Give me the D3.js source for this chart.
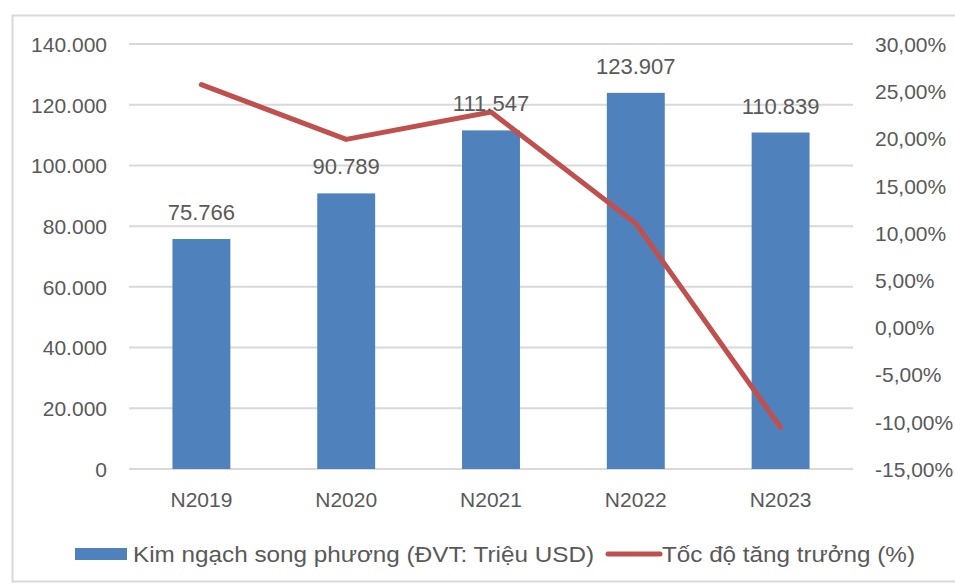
<!DOCTYPE html>
<html>
<head>
  <meta charset="utf-8">
  <title>Kim ngạch song phương</title>
  <script src="https://d3js.org/d3.v7.min.js" charset="utf-8"></script>
  <style type="text/css">
    body { margin: 0; background: #fff; }
    text { font-family: "Liberation Sans", Arial, sans-serif; fill: #595959; }
  </style>
</head>
<body>
<script>

var width = 955;
var height = 587;

// data
var categories = ["N2019", "N2020", "N2021", "N2022", "N2023"];
var tradeValues = [75766, 90789, 111547, 123907, 110839];
var growthRates = [25.7, 19.9, 22.8, 11.0, -10.6];
var leftTicks = [0, 20000, 40000, 60000, 80000, 100000, 120000, 140000];
var rightTicks = [-15, -10, -5, 0, 5, 10, 15, 20, 25, 30];
var legendLabels = ["Kim ngạch song phương (ĐVT: Triệu USD)", "Tốc độ tăng trưởng (%)"];

var plotLeft = 129, plotRight = 853, plotTop = 44, plotBottom = 469;

var svg = d3.select("body").append("svg")
  .attr("width", width)
  .attr("height", height);

// outer frame
svg.append("rect")
  .attr("x", 12.5).attr("y", 15.5)
  .attr("width", 960).attr("height", 566)
  .attr("fill", "none")
  .attr("stroke", "#d9d9d9")
  .attr("stroke-width", 2);

var x = d3.scaleBand()
  .domain(categories)
  .range([plotLeft, plotRight])
  .paddingInner(0.6)
  .paddingOuter(0.3);

var yLeft = d3.scaleLinear().domain([0, 140000]).range([plotBottom, plotTop]);
var yRight = d3.scaleLinear().domain([-15, 30]).range([plotBottom, plotTop]);

var fmtLeft = function(d){ return d3.format(",")(d).replace(/,/g, "."); };
// plain hyphen instead of d3's unicode minus
var fmtRight = function(d){ return d3.format(".2f")(d).replace("−", "-").replace(".", ",") + "%"; };

// gridlines
svg.append("g")
  .selectAll("line")
  .data(leftTicks)
  .enter()
  .append("line")
  .attr("x1", plotLeft).attr("x2", plotRight)
  .attr("y1", function(d){ return yLeft(d); })
  .attr("y2", function(d){ return yLeft(d); })
  .attr("stroke", "#d9d9d9")
  .attr("stroke-width", 2);

// left axis
var leftAxis = svg.append("g")
  .attr("transform", "translate(107,0)")
  .call(d3.axisLeft(yLeft).tickValues(leftTicks).tickFormat(fmtLeft).tickSize(0).tickPadding(0));
leftAxis.select(".domain").remove();
leftAxis.selectAll("text").style("font-size", "21px").attr("fill", "#595959").attr("dy", "0.35em");

// right axis
var rightAxis = svg.append("g")
  .attr("transform", "translate(875,0)")
  .call(d3.axisRight(yRight).tickValues(rightTicks).tickFormat(fmtRight).tickSize(0).tickPadding(0));
rightAxis.select(".domain").remove();
rightAxis.selectAll("text").style("font-size", "21px").attr("fill", "#595959").attr("dy", "0.35em");

// category axis
var bottomAxis = svg.append("g")
  .attr("transform", "translate(0," + plotBottom + ")")
  .call(d3.axisBottom(x).tickSize(0).tickPadding(23));
bottomAxis.select(".domain").remove();
bottomAxis.selectAll("text").style("font-size", "21px").attr("fill", "#595959");

// bars
svg.append("g")
  .selectAll("rect")
  .data(tradeValues)
  .enter()
  .append("rect")
  .attr("x", function(d, i){ return x(categories[i]); })
  .attr("y", function(d){ return yLeft(d); })
  .attr("width", x.bandwidth())
  .attr("height", function(d){ return plotBottom - yLeft(d); })
  .attr("fill", "#4f81bd");

// growth line
var line = d3.line()
  .x(function(d, i){ return x(categories[i]) + x.bandwidth() / 2; })
  .y(function(d){ return yRight(d); });

svg.append("path")
  .datum(growthRates)
  .attr("d", line)
  .attr("fill", "none")
  .attr("stroke", "#c0504d")
  .attr("stroke-width", 5)
  .attr("stroke-linecap", "round")
  .attr("stroke-linejoin", "round");

// data labels
svg.append("g")
  .selectAll("text")
  .data(tradeValues)
  .enter()
  .append("text")
  .attr("x", function(d, i){ return x(categories[i]) + x.bandwidth() / 2; })
  .attr("y", function(d){ return yLeft(d) - 19; })
  .attr("text-anchor", "middle")
  .style("font-size", "22px")
  .text(fmtLeft);

// legend (text stretched a little to match the reference width)
var legend = svg.append("g");
legend.append("rect")
  .attr("x", 75).attr("y", 548)
  .attr("width", 52).attr("height", 12)
  .attr("fill", "#4f81bd");
legend.append("text")
  .attr("x", 133).attr("y", 562)
  .attr("textLength", 461)
  .attr("lengthAdjust", "spacingAndGlyphs")
  .style("font-size", "22px")
  .text(legendLabels[0]);
legend.append("line")
  .attr("x1", 608).attr("x2", 660)
  .attr("y1", 554).attr("y2", 554)
  .attr("stroke", "#c0504d")
  .attr("stroke-width", 5)
  .attr("stroke-linecap", "round");
legend.append("text")
  .attr("x", 662).attr("y", 562)
  .attr("textLength", 253)
  .attr("lengthAdjust", "spacingAndGlyphs")
  .style("font-size", "22px")
  .text(legendLabels[1]);

</script>
</body>
</html>
